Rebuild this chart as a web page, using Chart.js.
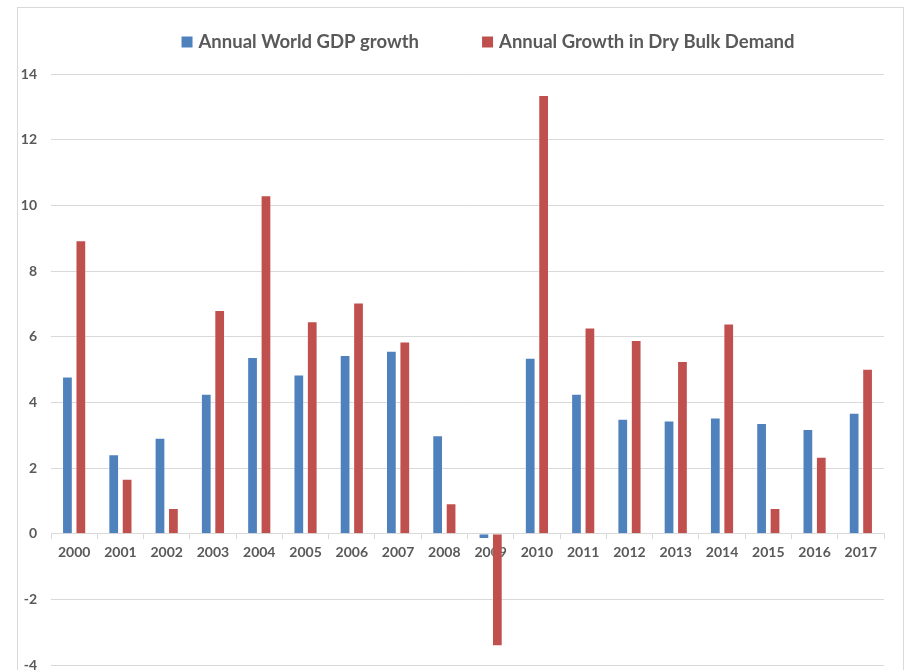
<!DOCTYPE html>
<html>
<head>
<meta charset="utf-8">
<script src="https://cdn.jsdelivr.net/npm/chart.js@4/dist/chart.umd.min.js"></script>
<style>
  html, body { margin: 0; padding: 0; background: #ffffff; }
  #wrap { position: relative; width: 911px; height: 670px; overflow: hidden; }
  #frame { position: absolute; left: 17px; top: 7px; width: 887px; height: 700px;
           border: 1px solid #d9d9d9; box-sizing: border-box; pointer-events: none; }
  canvas { position: absolute; left: 0; top: 0; }
</style>
</head>
<body>
<div id="wrap">
  <div id="frame"></div>
  <canvas id="chart" width="911" height="670"></canvas>
</div>
<script>
// Years on the category axis
const years = ['2000','2001','2002','2003','2004','2005','2006','2007','2008',
               '2009','2010','2011','2012','2013','2014','2015','2016','2017'];

// Annual world GDP growth, %
const gdpGrowth = [4.79, 2.42, 2.92, 4.26, 5.38, 4.85, 5.44, 5.57, 3.00,
                   -0.16, 5.36, 4.26, 3.50, 3.45, 3.54, 3.37, 3.19, 3.68];

// Annual growth in dry bulk demand, %
const dryBulkGrowth = [8.94, 1.67, 0.78, 6.81, 10.31, 6.47, 7.04, 5.85, 0.93,
                       -3.43, 13.36, 6.28, 5.90, 5.26, 6.40, 0.78, 2.34, 5.02];

// Value-axis range and step
const yMin = -4, yMax = 14, yStep = 2;

const seriesNames = ['Annual World GDP growth', 'Annual Growth in Dry Bulk Demand'];
const seriesColors = ['#4f81bd', '#c0504d'];

const textColor = '#595959';
const gridColor = '#d9d9d9';
const fontFamily = 'Lato, "Open Sans", "DejaVu Sans", sans-serif';

// Legend drawn on the canvas above the plot, centred over the bars
const topLegend = {
  id: 'topLegend',
  afterDraw(chart) {
    const ctx = chart.ctx;
    ctx.save();
    ctx.font = 'bold 18.5px ' + fontFamily;
    ctx.textBaseline = 'middle';
    const box = 11, gapText = 6, gapItem = 63;
    const items = chart.data.datasets.map(ds => ({
      label: ds.label, color: ds.backgroundColor,
      w: box + gapText + ctx.measureText(ds.label).width
    }));
    const total = items.reduce((s, it) => s + it.w, 0) + gapItem * (items.length - 1);
    let x = 488 - total / 2;
    const cy = 42;
    items.forEach(it => {
      ctx.fillStyle = it.color;
      ctx.fillRect(x, cy - 5.5, box, box);
      ctx.fillStyle = textColor;
      ctx.textAlign = 'left';
      ctx.fillText(it.label, x + box + gapText, cy);
      x += it.w + gapItem;
    });
    ctx.restore();
  }
};

new Chart(document.getElementById('chart'), {
  type: 'bar',
  data: {
    labels: years,
    datasets: [
      { label: seriesNames[0], data: gdpGrowth, backgroundColor: seriesColors[0],
        borderColor: 'rgba(255,255,255,0.3)', borderWidth: 1 },
      { label: seriesNames[1], data: dryBulkGrowth, backgroundColor: seriesColors[1],
        borderColor: 'rgba(255,255,255,0.3)', borderWidth: 1 }
    ]
  },
  options: {
    responsive: false,
    animation: false,
    devicePixelRatio: 1,
    categoryPercentage: 0.58,
    barPercentage: 0.8,
    layout: { padding: { left: 0, right: 27, top: 74, bottom: 5 } },
    plugins: {
      legend: { display: false },
      tooltip: { enabled: false }
    },
    scales: {
      x: {
        position: { y: 0 },
        offset: true,
        grid: {
          offset: true,
          drawOnChartArea: false,
          drawTicks: true,
          tickLength: 5,
          color: gridColor,
          lineWidth: 1
        },
        border: { display: true, color: gridColor, width: 1 },
        ticks: {
          color: textColor,
          padding: 5,
          maxRotation: 0,
          autoSkip: false,
          font: { family: fontFamily, size: 14, weight: 'bold' }
        }
      },
      y: {
        min: yMin,
        max: yMax,
        grid: { color: gridColor, lineWidth: 1, drawTicks: false },
        border: { display: false },
        ticks: {
          stepSize: yStep,
          color: textColor,
          padding: 14,
          font: { family: fontFamily, size: 14, weight: 'bold' }
        },
        afterFit(scale) {
          scale.width = 51;
          scale.paddingTop = 0;
          scale.paddingBottom = 0;
        }
      }
    }
  },
  plugins: [topLegend]
});
</script>
</body>
</html>
